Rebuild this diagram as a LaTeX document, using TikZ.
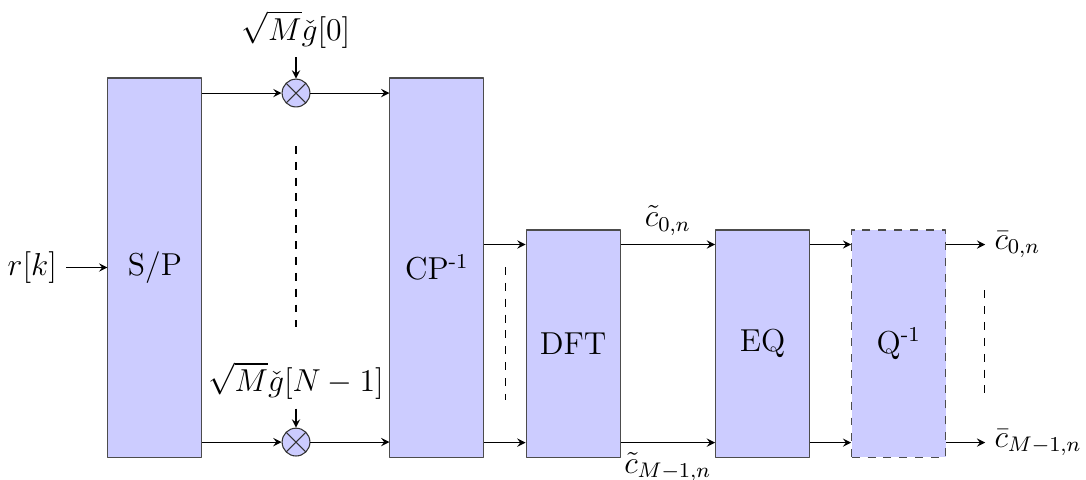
\documentclass[tikz,border=0pt]{standalone}
\usetikzlibrary{positioning}
\tikzset{
  blk/.style={draw=black!70, fill=blue!20, minimum width=1.25cm, minimum height=5.04cm},
  sblk/.style={blk, minimum height=3.02cm},
  mult/.style={draw=black!80, fill=blue!20, circle, minimum size=0.37cm, inner sep=0pt,
    path picture={\draw[black!80] (path picture bounding box.south west)--(path picture bounding box.north east)
      (path picture bounding box.north west)--(path picture bounding box.south east);}},
}
\begin{document}
\begin{tikzpicture}[>=stealth, line join=round, font=\large]
  \useasboundingbox (0,0) rectangle (14.44,-6.37);
  % blocks
  \node[blk] (sp) at (2.06,-3.557) {S/P};
  \node[blk] (cp) at (5.81,-3.557) {CP\textsuperscript{-1}};
  \node[sblk] (dft) at (7.62,-4.568) {DFT};
  \node[sblk] (eq) at (10.14,-4.568) {EQ};
  \node[sblk, dashed] (q) at (11.95,-4.568) {Q\textsuperscript{-1}};
  % multipliers
  \node[mult] (m0) at (3.936,-1.237) {};
  \node[mult] (m1) at (3.936,-5.878) {};
  \node (g0) at (3.936,-0.39) {$\sqrt{M}\check{g}[0]$};
  \node (g1) at (3.936,-5.06) {$\sqrt{M}\check{g}[N-1]$};
  \node (in) at (0.43,-3.557) {$r[k]$};
  \draw[->] (in) -- (sp);
  \draw[->] (g0) -- (m0);
  \draw[->] (g1) -- (m1);
  \foreach \m in {m0, m1}{
    \draw[->] (sp.east |- \m) -- (\m);
    \draw[->] (\m) -- (cp.west |- \m);
  }
  % parallel branches after CP
  \path (dft.north) ++(0,-0.2) coordinate (t0)
        (dft.south) ++(0,0.2) coordinate (t1);
  \draw[->] (cp.east |- t0) -- (dft.west |- t0);
  \draw[->] (cp.east |- t1) -- (dft.west |- t1);
  \draw[->] (dft.east |- t0) -- node[above] {$\tilde{c}_{0,n}$} (eq.west |- t0);
  \draw[->] (dft.east |- t1) -- node[below] {$\tilde{c}_{M-1,n}$} (eq.west |- t1);
  \draw[->] (eq.east |- t0) -- (q.west |- t0);
  \draw[->] (eq.east |- t1) -- (q.west |- t1);
  \coordinate (o0) at (13.1,0 |- t0);
  \coordinate (o1) at (13.1,0 |- t1);
  \draw[->] (q.east |- t0) -- (o0) node[right] {$\bar{c}_{0,n}$};
  \draw[->] (q.east |- t1) -- (o1) node[right] {$\bar{c}_{M-1,n}$};
  % dots
  \draw[dashed] (3.936,-1.94) -- (3.936,-4.35);
  \draw[dashed] (6.715,-3.55) -- (6.715,-5.32);
  \draw[dashed] (13.085,-3.86) -- (13.085,-5.23);
\end{tikzpicture}
\end{document}
